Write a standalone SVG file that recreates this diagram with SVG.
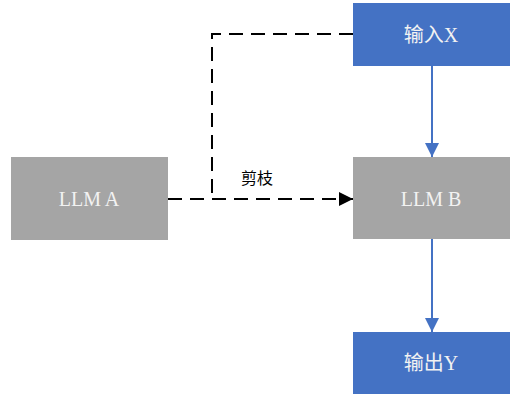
<svg xmlns="http://www.w3.org/2000/svg" width="523" height="402" viewBox="0 0 523 402">
<style>
.blue{fill:#4472C4;}
.gray{fill:#A5A5A5;}
.lbl{font-family:"Liberation Serif","Noto Sans CJK SC",serif;font-size:20px;fill:#F2F2F2;text-anchor:middle;dominant-baseline:central;}
.dash{fill:none;stroke:#000;stroke-width:2;stroke-dasharray:14 8;}
.solid{fill:none;stroke:#4472C4;stroke-width:2;}
.edge{font-family:"Noto Sans CJK SC",sans-serif;font-size:16px;fill:#000;text-anchor:middle;dominant-baseline:central;}
</style>
<defs>
<marker id="ab" viewBox="0 0 10 10" refX="10" refY="5" markerWidth="7" markerHeight="7" orient="auto" markerUnits="strokeWidth"><path d="M0,0 L10,5 L0,10 z" fill="#000"/></marker>
<marker id="ablue" viewBox="0 0 10 10" refX="10" refY="5" markerWidth="7" markerHeight="7" orient="auto" markerUnits="strokeWidth"><path d="M0,0 L10,5 L0,10 z" fill="#4472C4"/></marker>
</defs>
<rect width="523" height="402" fill="#fff"/>
<g id="connectors">
<path class="dash" d="M353,34 H212 V199"/>
<path class="dash" d="M168,199 H353" marker-end="url(#ab)"/>
<path class="solid" d="M432,66 V157" marker-end="url(#ablue)"/>
<path class="solid" d="M432,239 V332" marker-end="url(#ablue)"/>
<text class="edge" x="257" y="177">剪枝</text>
</g>
<g id="inputX"><rect class="blue" x="353" y="3" width="157" height="63"/><text class="lbl" x="431" y="35">输入X</text></g>
<g id="llmA"><rect class="gray" x="11" y="157" width="157" height="83"/><text class="lbl" x="89" y="199">LLM A</text></g>
<g id="llmB"><rect class="gray" x="353" y="157" width="157" height="82"/><text class="lbl" x="431" y="199">LLM B</text></g>
<g id="outputY"><rect class="blue" x="353" y="332" width="157" height="62"/><text class="lbl" x="431" y="363">输出Y</text></g>
</svg>
